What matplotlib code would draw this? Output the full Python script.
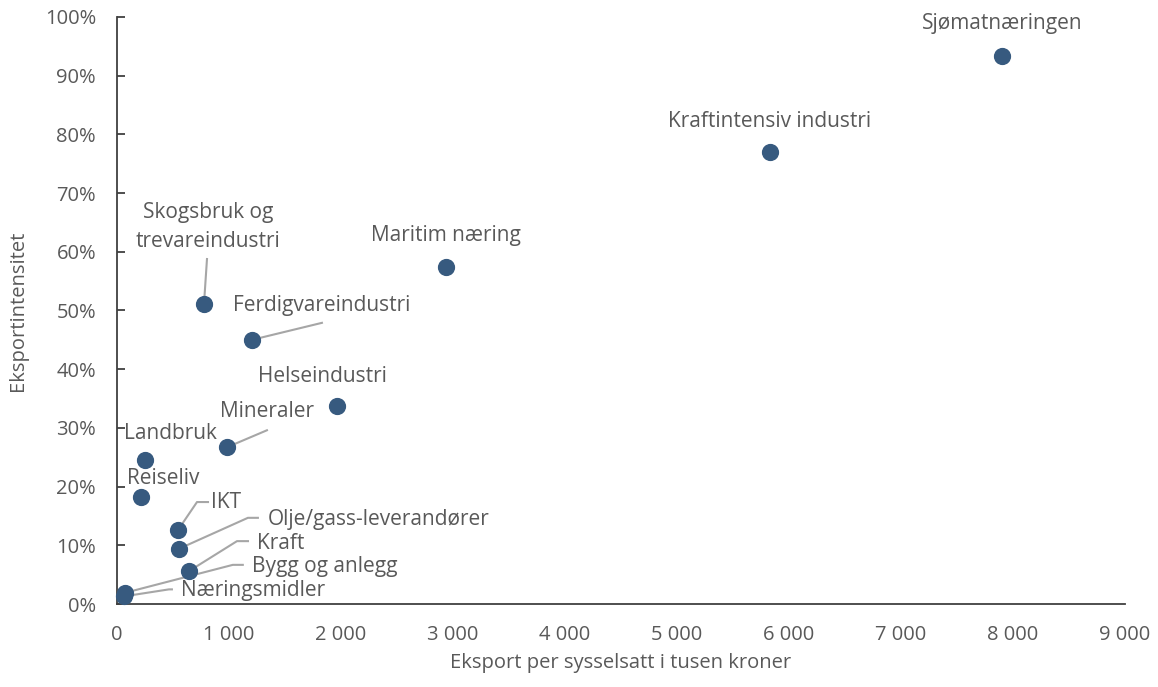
import matplotlib
matplotlib.use("Agg")
import matplotlib.pyplot as plt
from matplotlib.ticker import FuncFormatter, MultipleLocator
from matplotlib.transforms import Affine2D

plt.rcParams["font.family"] = ["Open Sans", "DejaVu Sans"]

# ---- data ----
sectors = ["Sjømatnæringen", "Kraftintensiv industri", "Maritim næring",
           "Skogsbruk og\ntrevareindustri", "Ferdigvareindustri", "Helseindustri",
           "Mineraler", "Landbruk", "Reiseliv", "IKT", "Olje/gass-leverandører",
           "Kraft", "Bygg og anlegg", "Næringsmidler"]
export_per_employee = [7900, 5830, 2940, 777, 1205, 1964, 982, 250, 214, 545, 553, 643, 70, 62]
export_intensity = [93.4, 77.0, 57.4, 51.1, 45.0, 33.7, 26.7, 24.5, 18.2, 12.6, 9.4, 5.6, 1.9, 1.3]

# label placement (pixel offsets from point) and leader line vertices
label_offsets = [(0, 32), (0, 30), (0, 32), (4, 77), (70, 34), (-14, 30), (40, 36),
                 (25, 27), (22, 19), (48, 28), (200, 29), (92, 28), (200, 26), (129, 6)]
leaders = {
    3: [(0, 0), (3, 45)],
    4: [(0, 0), (70, 17)],
    6: [(0, 0), (40, 17)],
    9: [(0, 0), (19, 28), (30, 28)],
    10: [(0, 0), (69, 31), (79, 31)],
    11: [(0, 0), (48, 30), (59, 30)],
    12: [(0, 0), (108, 28), (118, 28)],
    13: [(0, 0), (45, 7), (48, 7)],
}

TEXT = "#595959"
DOT = "#375a7f"
LINE = "#a6a6a6"

fig = plt.figure(figsize=(11.58, 6.87), dpi=100)
ax = fig.add_axes([0.101, 0.1208, 0.8705, 0.8545])

ax.set_xlim(0, 9000)
ax.set_ylim(0, 100)
ax.xaxis.set_major_locator(MultipleLocator(1000))
ax.yaxis.set_major_locator(MultipleLocator(10))
ax.xaxis.set_major_formatter(FuncFormatter(lambda v, p: f"{int(v):,}".replace(",", " ")))
ax.yaxis.set_major_formatter(FuncFormatter(lambda v, p: f"{int(v)}%"))

for side in ["top", "right"]:
    ax.spines[side].set_visible(False)
for side in ["left", "bottom"]:
    ax.spines[side].set_color("#404040")
    ax.spines[side].set_linewidth(1.3)

ax.tick_params(axis="y", direction="in", length=5.5, width=1.3, color="#404040",
               labelsize=14.5, labelcolor=TEXT, pad=15)
ax.tick_params(axis="x", length=0, labelsize=14.5, labelcolor=TEXT, pad=15)

ax.set_xlabel("Eksport per sysselsatt i tusen kroner", fontsize=14.5, color=TEXT, labelpad=6)
ax.set_ylabel("Eksportintensitet", fontsize=14.5, color=TEXT, labelpad=12)

# leader lines first so dots sit on top
for i, verts in leaders.items():
    px, py = ax.transData.transform((export_per_employee[i], export_intensity[i]))
    xs = [v[0] for v in verts]
    ys = [v[1] for v in verts]
    ax.plot(xs, ys, color=LINE, linewidth=1.5, transform=Affine2D().translate(px, py),
            clip_on=False, zorder=2)

ax.scatter(export_per_employee, export_intensity, s=130, color=DOT, zorder=3, clip_on=False)

for name, x, y, off in zip(sectors, export_per_employee, export_intensity, label_offsets):
    ax.annotate(name, (x, y), xytext=off, textcoords="offset pixels",
                ha="center", va="center", fontsize=15, color=TEXT,
                linespacing=1.45, zorder=4)

fig.savefig("out.png", dpi=100)
